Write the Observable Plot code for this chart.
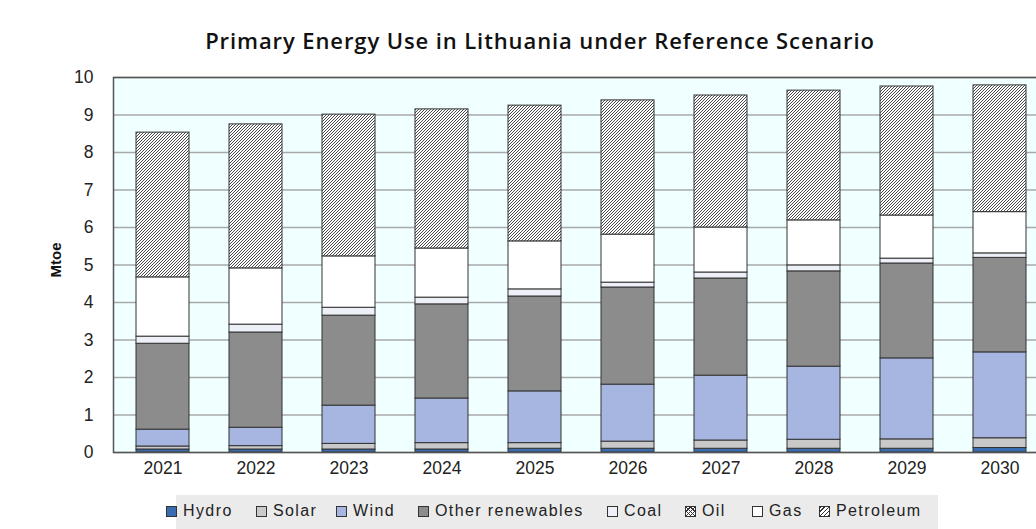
<!DOCTYPE html>
<html>
<head>
<meta charset="utf-8">
<script src="https://cdn.jsdelivr.net/npm/d3@7"></script>
<script src="https://cdn.jsdelivr.net/npm/@observablehq/plot@0.6"></script>
<style>
  html, body { margin: 0; padding: 0; background: #fff; overflow: hidden; }
  #wrap { position: relative; width: 1036px; height: 529px; overflow: hidden; }
  #title { position: absolute; top: 25px; left: 0; width: 1080px; text-align: center;
    font-family: "Open Sans", sans-serif; font-weight: 600; font-size: 22px; letter-spacing: 0.9px; color: #111; }
  #chart { position: absolute; top: 60px; left: 0; }
  #ylabel { position: absolute; left: 55px; top: 260px; transform: translate(-50%, -50%) rotate(-90deg);
    font-family: "Liberation Sans", Arial, sans-serif; font-weight: bold; font-size: 15px; color: #111; white-space: nowrap; }
  #legend { position: absolute; top: 495px; left: 176px; width: 762px; height: 34px; background: #ebebeb;
    font-family: "Liberation Sans", Arial, sans-serif; font-size: 16px; color: #222; letter-spacing: 1.4px; }
  .item { position: absolute; top: 7px; display: flex; align-items: center; white-space: nowrap; }
  .sw { width: 11px; height: 11px; border: 1px solid #333; margin-right: 6px; box-sizing: border-box; }
</style>
</head>
<body>
<div id="wrap">
  <div id="title">Primary Energy Use in Lithuania under Reference Scenario</div>
  <div id="chart"></div>
  <div id="ylabel"></div>
  <div id="legend"></div>
</div>
<script>
const years = ["2021","2022","2023","2024","2025","2026","2027","2028","2029","2030"];
const sources = ["Hydro","Solar","Wind","Other renewables","Coal","Oil","Gas","Petroleum"];
const hydro     = [0.08,0.08,0.08,0.08,0.10,0.10,0.10,0.10,0.10,0.12];
const solar     = [0.08,0.09,0.15,0.17,0.15,0.19,0.22,0.24,0.25,0.26];
const wind      = [0.45,0.49,1.02,1.19,1.38,1.52,1.73,1.95,2.16,2.29];
const otherRen  = [2.29,2.54,2.40,2.51,2.53,2.59,2.59,2.54,2.53,2.52];
const coal      = [0.19,0.21,0.21,0.18,0.19,0.13,0.16,0.16,0.13,0.12];
const oil       = [0,0,0,0,0,0,0,0,0,0];
const gas       = [1.58,1.50,1.37,1.31,1.28,1.28,1.20,1.20,1.15,1.10];
const petroleum = [3.86,3.84,3.78,3.71,3.62,3.58,3.52,3.46,3.44,3.38];
const yTicks = [0,1,2,3,4,5,6,7,8,9,10];
const yLabel = "Mtoe";

const series = [hydro, solar, wind, otherRen, coal, oil, gas, petroleum];
const fills = ["#3a6db0","#c9c9c9","#a6b6e1","#8c8c8c","#eef0f8","url(#crossHatch)","#ffffff","url(#diagHatch)"];
const legendBg = ["#3a6db0","#c9c9c9","#a6b6e1","#8c8c8c","#eef0f8",
  "repeating-linear-gradient(45deg,#333 0 1px,transparent 1px 3px),repeating-linear-gradient(-45deg,#333 0 1px,#fff 1px 3px)",
  "#ffffff",
  "repeating-linear-gradient(-45deg,#333 0 1px,#fff 1px 3px)"];

const rows = [];
years.forEach((y, i) => {
  sources.forEach((s, j) => rows.push({year: y, source: s, value: series[j][i]}));
});

const chart = Plot.plot({
  width: 1036,
  height: 420,
  marginTop: 17,
  marginBottom: 28,
  marginLeft: 113,
  marginRight: -14,
  style: {fontFamily: "'Liberation Sans', Arial, sans-serif", color: "#222", background: "transparent", overflow: "visible"},
  x: {domain: years, paddingInner: 0.43, paddingOuter: 0.215},
  y: {domain: [0, 10]},
  color: {domain: sources, range: fills},
  marks: [
    Plot.frame({fill: "#f0ffff", stroke: null}),
    Plot.gridY(yTicks, {stroke: "#a9a9a9", strokeOpacity: 1, strokeWidth: 1.5}),
    Plot.barY(rows, Plot.stackY({x: "year", y: "value", fill: "source", stroke: "#333", strokeWidth: 1, order: null})),
    Plot.frame({stroke: "#555", strokeWidth: 1.5}),
    Plot.axisY(yTicks, {tickSize: 0, tickPadding: 20, fontSize: 17.5, label: null}),
    Plot.axisX({tickSize: 0, tickPadding: 9, fontSize: 17.5, label: null})
  ]
});

// pattern defs
const ns = "http://www.w3.org/2000/svg";
const defs = document.createElementNS(ns, "defs");
defs.innerHTML = `
  <pattern id="diagHatch" patternUnits="userSpaceOnUse" width="3" height="3">
    <rect width="3" height="3" fill="#fff"/>
    <path d="M-1,1 l2,-2 M0,3 l3,-3 M2,4 l2,-2" stroke="#333" stroke-width="0.9"/>
  </pattern>
  <pattern id="crossHatch" patternUnits="userSpaceOnUse" width="4" height="4">
    <rect width="4" height="4" fill="#fff"/>
    <path d="M0,4 l4,-4 M0,0 l4,4" stroke="#333" stroke-width="0.8"/>
  </pattern>`;
chart.insertBefore(defs, chart.firstChild);
document.getElementById("chart").appendChild(chart);
document.getElementById("ylabel").textContent = yLabel;

// legend
const legendX = [166, 256, 336, 418, 607, 685, 752, 819];
const legend = document.getElementById("legend");
sources.forEach((s, j) => {
  const it = document.createElement("div");
  it.className = "item";
  it.style.left = (legendX[j] - 176) + "px";
  const sw = document.createElement("div");
  sw.className = "sw";
  sw.style.background = legendBg[j];
  it.appendChild(sw);
  const t = document.createElement("span");
  t.textContent = s;
  it.appendChild(t);
  legend.appendChild(it);
});
</script>
</body>
</html>
